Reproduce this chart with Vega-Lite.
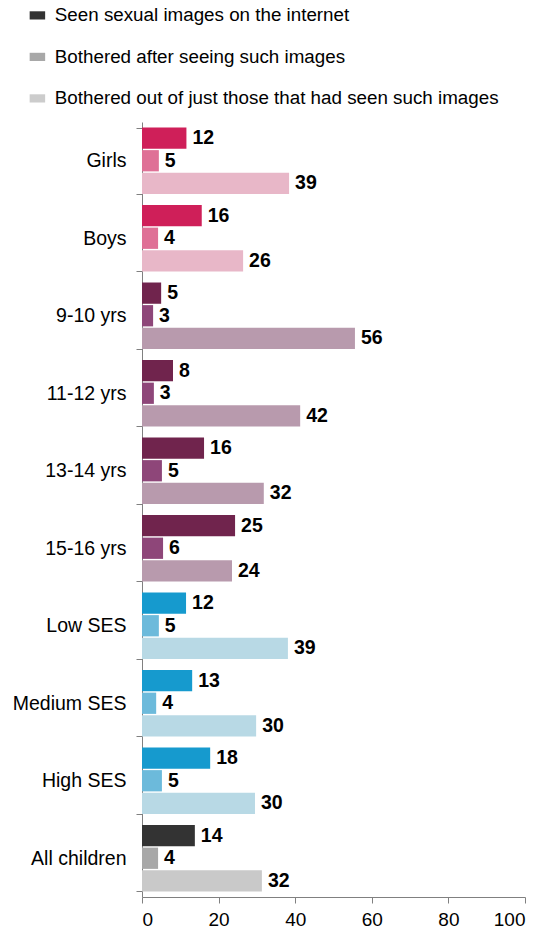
{
  "$schema": "https://vega.github.io/schema/vega-lite/v6.json",
  "width": 383,
  "height": 775,
  "autosize": {"type": "none"},
  "padding": {"left": 142, "top": 122, "right": 17, "bottom": 37},
  "background": "white",
  "config": {
    "font": "Liberation Sans",
    "view": {"stroke": null},
    "axis": {"labelFont": "Liberation Sans", "labelFontSize": 19.5, "labelColor": "#000000", "domainColor": "#808080", "tickColor": "#808080", "tickSize": 6, "grid": false, "title": null}
  },
  "datasets": {
    "bars": [
      {"cat": "Girls", "tone": "gender-1", "s": 1, "v": 11.6, "lab": 12},
      {"cat": "Girls", "tone": "gender-2", "s": 2, "v": 4.4, "lab": 5},
      {"cat": "Girls", "tone": "gender-3", "s": 3, "v": 38.4, "lab": 39},
      {"cat": "Boys", "tone": "gender-1", "s": 1, "v": 15.6, "lab": 16},
      {"cat": "Boys", "tone": "gender-2", "s": 2, "v": 4.2, "lab": 4},
      {"cat": "Boys", "tone": "gender-3", "s": 3, "v": 26.4, "lab": 26},
      {"cat": "9-10 yrs", "tone": "age-1", "s": 1, "v": 5.0, "lab": 5},
      {"cat": "9-10 yrs", "tone": "age-2", "s": 2, "v": 2.9, "lab": 3},
      {"cat": "9-10 yrs", "tone": "age-3", "s": 3, "v": 55.6, "lab": 56},
      {"cat": "11-12 yrs", "tone": "age-1", "s": 1, "v": 8.1, "lab": 8},
      {"cat": "11-12 yrs", "tone": "age-2", "s": 2, "v": 3.1, "lab": 3},
      {"cat": "11-12 yrs", "tone": "age-3", "s": 3, "v": 41.3, "lab": 42},
      {"cat": "13-14 yrs", "tone": "age-1", "s": 1, "v": 16.2, "lab": 16},
      {"cat": "13-14 yrs", "tone": "age-2", "s": 2, "v": 5.2, "lab": 5},
      {"cat": "13-14 yrs", "tone": "age-3", "s": 3, "v": 31.8, "lab": 32},
      {"cat": "15-16 yrs", "tone": "age-1", "s": 1, "v": 24.3, "lab": 25},
      {"cat": "15-16 yrs", "tone": "age-2", "s": 2, "v": 5.5, "lab": 6},
      {"cat": "15-16 yrs", "tone": "age-3", "s": 3, "v": 23.5, "lab": 24},
      {"cat": "Low SES", "tone": "ses-1", "s": 1, "v": 11.5, "lab": 12},
      {"cat": "Low SES", "tone": "ses-2", "s": 2, "v": 4.4, "lab": 5},
      {"cat": "Low SES", "tone": "ses-3", "s": 3, "v": 38.1, "lab": 39},
      {"cat": "Medium SES", "tone": "ses-1", "s": 1, "v": 13.1, "lab": 13},
      {"cat": "Medium SES", "tone": "ses-2", "s": 2, "v": 3.7, "lab": 4},
      {"cat": "Medium SES", "tone": "ses-3", "s": 3, "v": 29.8, "lab": 30},
      {"cat": "High SES", "tone": "ses-1", "s": 1, "v": 17.8, "lab": 18},
      {"cat": "High SES", "tone": "ses-2", "s": 2, "v": 5.2, "lab": 5},
      {"cat": "High SES", "tone": "ses-3", "s": 3, "v": 29.5, "lab": 30},
      {"cat": "All children", "tone": "all-1", "s": 1, "v": 13.8, "lab": 14},
      {"cat": "All children", "tone": "all-2", "s": 2, "v": 4.2, "lab": 4},
      {"cat": "All children", "tone": "all-3", "s": 3, "v": 31.3, "lab": 32}
    ],
    "series": [
      {"series": "Seen sexual images on the internet"},
      {"series": "Bothered after seeing such images"},
      {"series": "Bothered out of just those that had seen such images"}
    ]
  },
  "encoding": {
    "y": {
      "field": "cat", "type": "nominal", "sort": null,
      "scale": {"paddingInner": 0.142, "paddingOuter": 0.071},
      "axis": {"tickBand": "extent", "labelPadding": 10}
    },
    "x": {
      "field": "v", "type": "quantitative",
      "scale": {"domain": [0, 100], "nice": false},
      "axis": {"values": [0, 20, 40, 60, 80, 100], "labelPadding": 7, "labelFontSize": 19}
    }
  },
  "layer": [
    {
      "data": {"name": "bars"},
      "mark": {"type": "bar"},
      "encoding": {
        "yOffset": {"field": "s", "type": "nominal", "scale": {"paddingInner": 0.06}},
        "fill": {
          "field": "tone", "type": "nominal", "legend": null,
          "scale": {
            "domain": ["gender-1", "gender-2", "gender-3", "age-1", "age-2", "age-3", "ses-1", "ses-2", "ses-3", "all-1", "all-2", "all-3"],
            "range": ["#cf1f59", "#df7096", "#e8b7c8", "#70244d", "#8e4679", "#b89aad", "#169ace", "#6cbadb", "#b8d9e5", "#333333", "#a8a8a8", "#c9c9c9"]
          }
        }
      }
    },
    {
      "data": {"name": "bars"},
      "mark": {"type": "text", "align": "left", "baseline": "middle", "dx": 6, "fontWeight": "bold", "fontSize": 19.5, "color": "#000000"},
      "encoding": {
        "yOffset": {"field": "s", "type": "nominal", "scale": {"paddingInner": 0.06}},
        "text": {"field": "lab", "type": "quantitative"}
      }
    },
    {
      "data": {"name": "series"},
      "mark": {"type": "square", "opacity": 0},
      "encoding": {
        "x": {"datum": 0, "type": "quantitative"},
        "y": {"datum": "Girls", "type": "nominal"},
        "color": {
          "field": "series", "type": "nominal", "sort": null,
          "scale": {
            "domain": ["Seen sexual images on the internet", "Bothered after seeing such images", "Bothered out of just those that had seen such images"],
            "range": ["#333333", "#a8a8a8", "#cccccc"]
          },
          "legend": {
            "title": null, "orient": "none", "legendX": -114, "legendY": -116, "direction": "vertical",
            "labelFontSize": 18.8, "labelFont": "Liberation Sans", "labelColor": "#000000", "labelLimit": 600,
            "symbolType": "M-1,-0.53H1V0.53H-1Z", "symbolSize": 240, "symbolOpacity": 1, "symbolStrokeWidth": 0,
            "rowPadding": 21.5, "labelOffset": 8
          }
        }
      }
    }
  ]
}
